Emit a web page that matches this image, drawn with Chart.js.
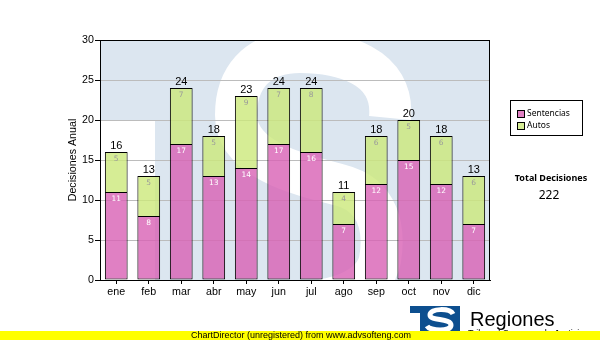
<!DOCTYPE html>
<html>
<head>
<meta charset="utf-8">
<script src="https://cdn.jsdelivr.net/npm/chart.js@4.4.0/dist/chart.umd.min.js"></script>
<style>
html, body { margin: 0; padding: 0; background: #fff; }
canvas { display: block; }
</style>
</head>
<body>
<canvas id="decChart" width="600" height="340"></canvas>
<script>
// ---- data ----
var months = ["ene", "feb", "mar", "abr", "may", "jun", "jul", "ago", "sep", "oct", "nov", "dic"];
var sentencias = [11, 8, 17, 13, 14, 17, 16, 7, 12, 15, 12, 7];
var autos = [5, 5, 7, 5, 9, 7, 8, 4, 6, 5, 6, 6];
var yTicks = [0, 5, 10, 15, 20, 25, 30];

// ---- look ----
var arial = "'Liberation Sans', Arial, sans-serif";
var smallFont = "'DejaVu Sans', Verdana, sans-serif";
var pinkFill = "rgba(216,96,180,0.8)";
var greenFill = "rgba(204,232,122,0.8)";
var plotBlue = "#dce6f0";
var logoBlue = "#0d4f8f";

var totalDecisiones = 0;
for (var i = 0; i < months.length; i++) totalDecisiones += sentencias[i] + autos[i];

// plot background with the big faded "S" mark
var watermark = {
    id: "watermark",
    beforeDraw: function (chart) {
        var ctx = chart.ctx, ca = chart.chartArea;
        ctx.save();
        ctx.beginPath();
        ctx.rect(ca.left, ca.top, ca.right - ca.left, ca.bottom - ca.top);
        ctx.clip();
        ctx.fillStyle = plotBlue;
        ctx.fillRect(ca.left, ca.top, ca.right - ca.left, ca.bottom - ca.top);
        ctx.translate(ca.left, ca.top);
        ctx.fillStyle = "#fff";
        ctx.fillRect(0, 80, 55, 160);
        ctx.strokeStyle = "#fff";
        ctx.lineWidth = 42;
        ctx.beginPath();
        ctx.moveTo(290, 78);
        ctx.bezierCurveTo(295, 25, 240, 12, 200, 12);
        ctx.bezierCurveTo(155, 12, 136, 40, 136, 75);
        ctx.bezierCurveTo(136, 120, 200, 135, 240, 145);
        ctx.bezierCurveTo(280, 155, 285, 190, 280, 220);
        ctx.bezierCurveTo(272, 260, 200, 270, 150, 260);
        ctx.stroke();
        ctx.restore();
    }
};

// plot frame, segment values and stack totals
var barLabels = {
    id: "barLabels",
    afterDatasetsDraw: function (chart) {
        var ctx = chart.ctx, ca = chart.chartArea;
        ctx.save();
        ctx.strokeStyle = "#000";
        ctx.lineWidth = 1;
        ctx.strokeRect(ca.left + 0.5, ca.top + 0.5, ca.right - ca.left - 1, ca.bottom - ca.top);

        ctx.textAlign = "center";
        ctx.textBaseline = "middle";
        ctx.font = "7.5px " + smallFont;
        chart.data.datasets.forEach(function (ds, di) {
            var meta = chart.getDatasetMeta(di);
            ctx.fillStyle = di === 0 ? "#ffffff" : "#9a9a9a";
            meta.data.forEach(function (bar, j) {
                ctx.fillText(String(ds.data[j]), bar.x, bar.y + 7);
            });
        });

        ctx.fillStyle = "#000";
        ctx.font = "11px " + arial;
        ctx.textBaseline = "bottom";
        chart.getDatasetMeta(1).data.forEach(function (bar, j) {
            ctx.fillText(String(sentencias[j] + autos[j]), bar.x, bar.y - 0.5);
        });
        ctx.restore();
    }
};

// legend box, total and footer
var sidePanel = {
    id: "sidePanel",
    afterDraw: function (chart) {
        var ctx = chart.ctx;
        ctx.save();
        // legend
        ctx.strokeStyle = "#000";
        ctx.lineWidth = 1;
        ctx.strokeRect(510.5, 100.5, 72, 35);
        ctx.font = "8.5px 'Noto Sans', sans-serif";
        ctx.textBaseline = "middle";
        ctx.textAlign = "left";
        chart.data.datasets.forEach(function (ds, di) {
            var y = 111 + di * 12;
            ctx.fillStyle = ds.backgroundColor;
            ctx.fillRect(518, y, 6, 6);
            ctx.strokeRect(517.5, y - 0.5, 7, 7);
            ctx.fillStyle = "#000";
            ctx.fillText(ds.label, 527, y + 3);
        });

        // total
        ctx.textAlign = "center";
        ctx.font = "bold 9px 'Noto Sans', sans-serif";
        ctx.fillText("Total Decisiones", 551, 178);
        ctx.font = "12px 'Noto Sans', sans-serif";
        ctx.fillText(String(totalDecisiones), 549, 196);

        // logo
        ctx.fillStyle = logoBlue;
        ctx.fillRect(410, 306, 50, 7);
        ctx.fillRect(420, 306, 40, 25);
        ctx.strokeStyle = "#fff";
        ctx.lineWidth = 5;
        ctx.beginPath();
        ctx.moveTo(453, 314);
        ctx.bezierCurveTo(450, 308, 430, 308, 430, 315);
        ctx.bezierCurveTo(430, 321, 451, 318, 451, 325);
        ctx.bezierCurveTo(451, 332, 430, 331, 427, 326);
        ctx.stroke();

        ctx.fillStyle = "#000";
        ctx.textAlign = "left";
        ctx.textBaseline = "alphabetic";
        ctx.font = "20px " + arial;
        ctx.fillText("Regiones", 470, 326);
        ctx.font = "9px " + arial;
        ctx.fillText("Tribunal Supremo de Justicia", 468, 336);

        // footer band
        ctx.fillStyle = "#ffff00";
        ctx.fillRect(0, 331, 600, 9);
        ctx.fillStyle = "#000";
        ctx.font = "9px " + arial;
        ctx.textBaseline = "middle";
        ctx.fillText("ChartDirector (unregistered) from www.advsofteng.com", 191, 335.5);
        ctx.restore();
    }
};

var tickFont = { family: arial, size: 10.7 };

new Chart(document.getElementById("decChart").getContext("2d"), {
    type: "bar",
    data: {
        labels: months,
        datasets: [{
            label: "Sentencias",
            data: sentencias,
            backgroundColor: pinkFill,
            borderColor: "#000",
            borderWidth: 1,
            borderSkipped: false,
            categoryPercentage: 1,
            barPercentage: 0.7
        }, {
            label: "Autos",
            data: autos,
            backgroundColor: greenFill,
            borderColor: "#000",
            borderWidth: 1,
            borderSkipped: "bottom",
            categoryPercentage: 1,
            barPercentage: 0.7
        }]
    },
    options: {
        responsive: false,
        animation: false,
        layout: { padding: { left: 0, top: 40, right: 110, bottom: 0 } },
        plugins: {
            legend: { display: false },
            tooltip: { enabled: false }
        },
        scales: {
            x: {
                stacked: true,
                grid: { drawOnChartArea: false, offset: false, tickLength: 4, tickColor: "#000" },
                border: { color: "#000" },
                ticks: { color: "#000", font: tickFont, padding: 2, maxRotation: 0 },
                afterFit: function (s) { s.height = 60; }
            },
            y: {
                stacked: true,
                min: 0,
                max: 30,
                afterBuildTicks: function (s) {
                    s.ticks = yTicks.map(function (v) { return { value: v }; });
                },
                grid: { color: "#bcbcbc", tickColor: "#000", tickLength: 5 },
                border: { color: "#000" },
                ticks: { color: "#000", font: tickFont, padding: 1 },
                title: {
                    display: true,
                    text: "Decisiones Anual",
                    color: "#000",
                    font: tickFont,
                    padding: { top: 67, bottom: 0 }
                },
                afterFit: function (s) { s.width = 100; }
            }
        }
    },
    plugins: [watermark, barLabels, sidePanel]
});
</script>
</body>
</html>
